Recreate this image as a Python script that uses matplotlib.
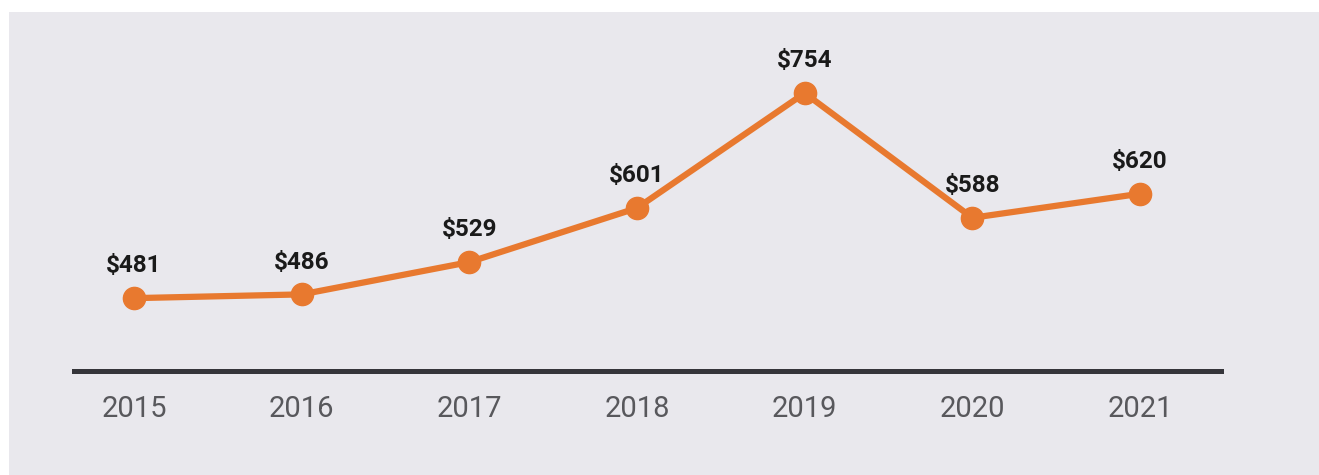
import matplotlib.pyplot as plt
from matplotlib.patches import Rectangle

years = ["2015", "2016", "2017", "2018", "2019", "2020", "2021"]
values = [481, 486, 529, 601, 754, 588, 620]

BG = "#e9e8ed"
ORANGE = "#e8792f"

fig = plt.figure(figsize=(13.19, 4.75), dpi=100, facecolor="white")
fig.patches.append(Rectangle((9 / 1319, 0), 1, 1 - 12 / 475, transform=fig.transFigure,
                             facecolor=BG, edgecolor="none", zorder=-10))

W, H = 1319, 475
ax = fig.add_axes([74 / W, 1 - 371 / H, (1221 - 74) / W, (371 - 12) / H])
ax.set_zorder(5)
ax.set_facecolor("none")

x = list(range(len(years)))
ax.plot(x, values, color=ORANGE, linewidth=4.5, marker="o", markersize=16,
        solid_capstyle="round", zorder=3)
for xi, v in zip(x, values):
    ax.annotate(f"${v}", (xi, v), xytext=(0, 15), textcoords="offset points",
                ha="center", va="bottom", fontsize=17.5, fontweight="bold",
                fontfamily="Roboto", color="#1a1a1a")

ax.set_xlim(-0.358, 6.483)
ax.set_ylim(384, 862)
ax.set_xticks(x)
ax.set_xticklabels(years, fontsize=21, fontfamily="Roboto", color="#58585c")
ax.tick_params(axis="x", length=0, pad=17)
ax.set_yticks([])
for side in ["top", "right", "left"]:
    ax.spines[side].set_visible(False)
ax.spines["bottom"].set_color("#35353a")
ax.spines["bottom"].set_linewidth(3.6)

fig.savefig("out.png", dpi=100, facecolor=fig.get_facecolor())
